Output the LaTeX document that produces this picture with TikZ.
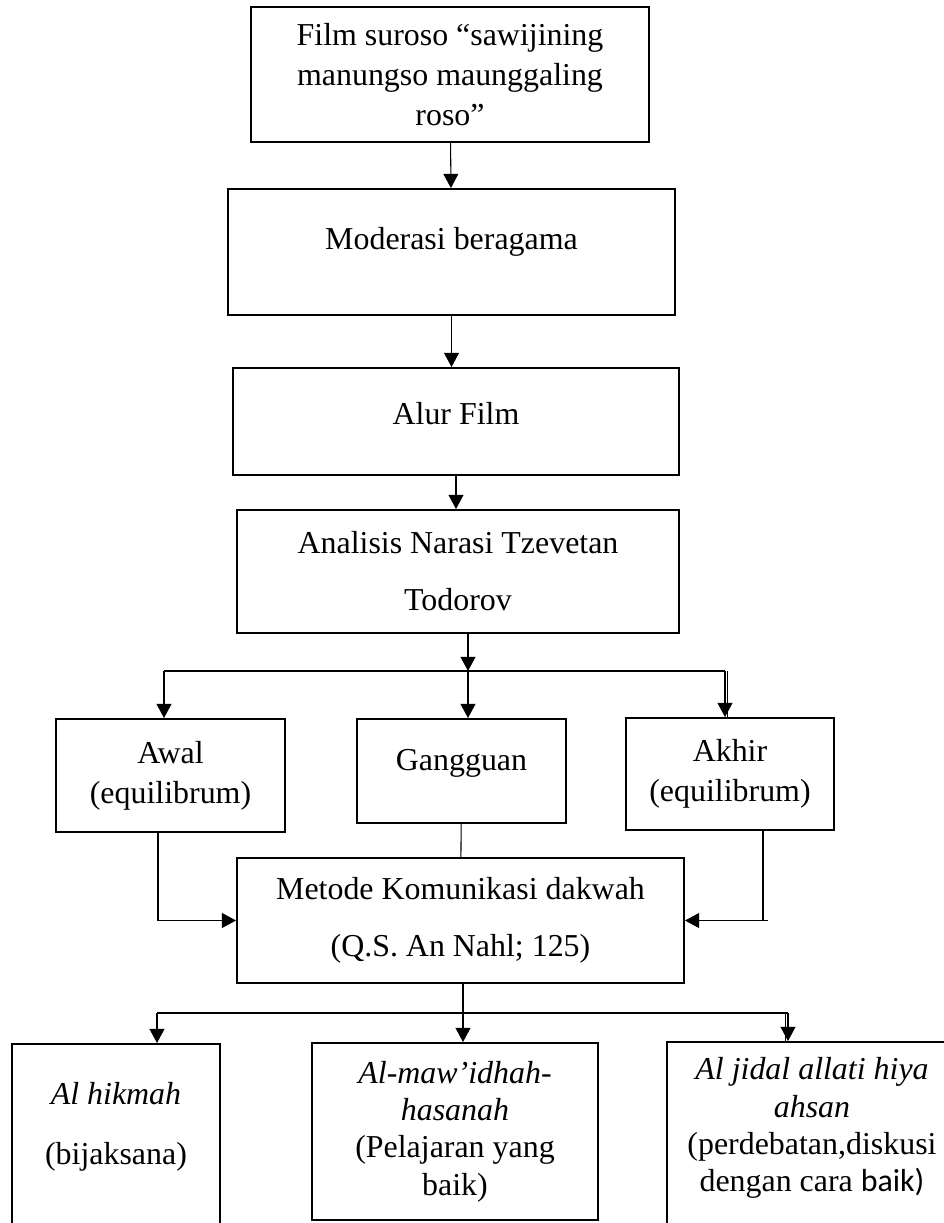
\documentclass[tikz,border=0pt]{standalone}
\usepackage{fontspec}
\setmainfont{Liberation Serif}
\newfontfamily\calibrifont{Carlito}
\usetikzlibrary{arrows.meta}
\begin{document}
\begin{tikzpicture}[x=0.376pt,y=-0.376pt,font=\fontsize{12}{15}\selectfont,
  box/.style={draw,line width=0.75pt,align=center,inner sep=0pt},
  wh/.style 2 args={minimum width=#1*0.376pt,minimum height=#2*0.376pt},
  txt/.style={align=center,inner sep=0pt},
  tight/.style={font=\fontsize{12}{14}\selectfont},
  conn/.style={line width=0.4pt},
  arr/.style={conn,-{Triangle[length=5.3pt,width=5.6pt]}}]
\useasboundingbox (0,0) rectangle (944,1223);
\node[box,wh={398}{135}] (film) at (450,74.5) {Film suroso “sawijining\\manungso maunggaling\\roso”};
\node[box,wh={447}{126},text depth=10.1pt] (moderasi) at (451.5,252) {Moderasi beragama};
\node[box,wh={446}{107},text depth=6.4pt] (alur) at (456,421.5) {Alur Film};
\node[box,wh={442}{123}] (analisis) at (458,571.5) {Analisis Narasi Tzevetan\\[6.4pt]Todorov};
\node[box,wh={229}{113}] (awal) at (170.5,775.5) {Awal\\(equilibrum)};
\node[box,wh={209}{104},text depth=8pt] (gangguan) at (461.5,771) {Gangguan};
\node[box,wh={208}{112}] (akhir) at (730,774) {Akhir\\(equilibrum)};
\node[box,wh={447}{125}] (metode) at (460.5,920.5) {Metode Komunikasi dakwah\\[6.4pt](Q.S. An Nahl; 125)};
\node[box,wh={208}{300},anchor=north] (hikmah) at (116,1043) {};
\node[txt] (hikmahtxt) at (116,1127) {\textit{Al hikmah}\\[7.6pt](bijaksana)};
\node[box,tight,wh={286}{177}] (mawidhah) at (455,1131.5) {\textit{Al-maw’idhah-}\\\textit{hasanah}\\(Pelajaran yang\\baik)};
\node[box,wh={290}{300},anchor=north] (jidal) at (812,1041) {};
\node[txt,tight] (jidaltxt) at (812,1128) {\textit{Al jidal allati hiya}\\\textit{ahsan}\\(perdebatan,diskusi\\dengan cara {\calibrifont baik)}};
\coordinate (forkA) at (468,671);
\coordinate (forkAL) at (164,671);
\coordinate (forkAR) at (725,671);
\coordinate (forkB) at (463,1013);
\coordinate (forkBL) at (157,1013);
\coordinate (forkBR) at (788,1013);
\coordinate (awalout) at (158,832);
\coordinate (akhirout) at (763,830);
\draw[arr] (film) -- (moderasi);
\draw[arr] (moderasi.south) -- (moderasi.south |- alur.north);
\draw[arr] (alur.south) -- (alur.south |- analisis.north);
\draw[arr] (analisis.south -| forkA) -- (forkA);
\draw[conn] (forkAL) -- (forkAR);
\draw[arr] (forkAL) -- (forkAL |- awal.north);
\draw[arr] (forkA) -- (forkA |- gangguan.north);
\draw[arr] (forkAR) -- (forkAR |- akhir.north);
\draw[conn] ([xshift=1.1pt]forkAR) -- ([xshift=1.1pt]forkAR |- akhir.north);
\draw[arr] (awalout) |- (metode.west);
\draw[conn] (gangguan) -- (metode);
\draw[arr] (akhirout) |- (metode.east);
\draw[conn] (akhirout |- metode.east) -- ++(5,0);
\draw[arr] (metode.south -| forkB) -- (forkB |- mawidhah.north);
\draw[conn] (forkBL) -- (forkBR);
\draw[arr] (forkBL) -- (forkBL |- hikmah.north);
\draw[arr] (forkBR) -- (forkBR |- jidal.north);
\draw[conn] ([xshift=-1.1pt]forkBR) -- ([xshift=-1.1pt]forkBR |- jidal.north);
\end{tikzpicture}
\end{document}
